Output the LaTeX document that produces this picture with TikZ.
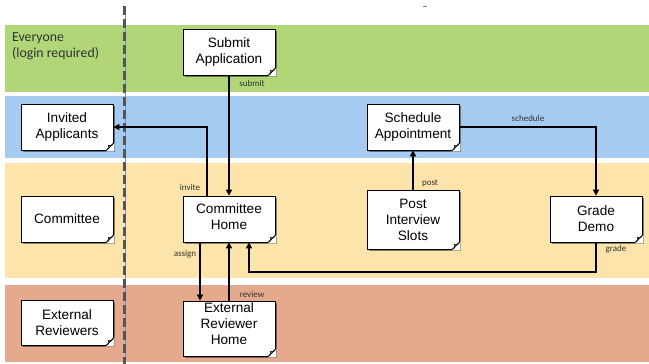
\documentclass[tikz,border=0pt]{standalone}
\usepackage{fontspec}
\setmainfont{Liberation Sans}
\newfontfamily\labelfont{Carlito}
\usetikzlibrary{arrows.meta,shadows}
\definecolor{laneeveryone}{RGB}{176,214,120}
\definecolor{laneinvited}{RGB}{166,203,240}
\definecolor{lanecommittee}{RGB}{252,228,170}
\definecolor{lanereviewer}{RGB}{229,169,142}
\definecolor{dividergray}{RGB}{85,85,85}
\definecolor{labelgray}{RGB}{50,50,50}
\tikzset{
  notebox/.style={draw, line width=.7pt, fill=white, align=center, inner sep=1pt,
    minimum width=92pt, minimum height=46pt,
    font=\fontsize{13.6}{16}\selectfont,
    drop shadow={shadow xshift=1.5pt, shadow yshift=-1.5pt, fill=black, opacity=.45}},
  flow/.style={line width=2pt, -{Triangle[length=6pt,width=6pt]}},
  flowlabel/.style={font=\labelfont\fontsize{9}{10}\selectfont, text=labelgray, inner sep=0pt},
  lanelabel/.style={font=\labelfont\fontsize{13.8}{16}\selectfont, text=labelgray, align=left, anchor=north west, inner sep=0pt}
}
\newcommand{\dogear}[1]{%
  \fill[white] ([xshift=-7.5pt,yshift=-1pt]#1.south east) -- ([xshift=1pt,yshift=-1pt]#1.south east)
    -- ([xshift=1pt,yshift=7.5pt]#1.south east) -- cycle;
  \filldraw[fill=black!8, line width=.5pt] ([xshift=-7pt]#1.south east)
    .. controls ([xshift=-4pt,yshift=2pt]#1.south east) .. ([xshift=-5pt,yshift=5pt]#1.south east)
    .. controls ([xshift=-2pt,yshift=4pt]#1.south east) .. ([yshift=7pt]#1.south east) -- cycle;
  \draw[line width=.7pt] ([xshift=-7pt]#1.south east) -- ([yshift=7pt]#1.south east);
}
\begin{document}
\begin{tikzpicture}[x=1pt,y=-1pt]
        \useasboundingbox (0,0) rectangle (649,364);
        \fill[laneeveryone] (5,25) rectangle (649,92);
        \fill[laneinvited] (5,96) rectangle (649,158);
        \fill[lanecommittee] (5,163) rectangle (649,278);
        \fill[lanereviewer] (5,285) rectangle (649,362);
        \node[lanelabel] (everyone) at (12,32) {Everyone\\(login required)};
        \draw[laneinvited!70!blue, line width=.6pt] (125,6) -- (125,364);
        \draw[dividergray, line width=3pt, dash pattern=on 9pt off 4pt] (124,6) -- (124,364);
        \draw[gray, line width=1pt] (423,6) -- (427,6);

        \node[notebox] (submit) at (229,52) {Submit\\Application};
        \node[notebox] (invited) at (67,127) {Invited\\Applicants};
        \node[notebox] (schedule) at (413,127) {Schedule\\Appointment};
        \node[notebox] (committee) at (67,219) {Committee};
        \node[notebox, text depth=5pt] (chome) at (229,219) {Committee\\Home};
        \node[notebox, minimum height=59pt] (post) at (413,219.5) {Post\\Interview\\Slots};
        \node[notebox] (grade) at (596,219) {Grade\\Demo};
        \node[notebox, minimum height=45pt] (extrev) at (67,322.5) {External\\Reviewers};
        \node[notebox, minimum height=55pt, text depth=9pt] (erhome) at (229,328.5) {External\\Reviewer\\Home};
        \foreach \n in {submit,invited,schedule,committee,chome,post,grade,extrev,erhome}
            {
                \dogear{\n}
            }

        \draw[flow] (submit.south) -- (chome.north);
        \draw[flow] ([xshift=-22pt]chome.north) |- (invited.east);
        \draw[flow] ([xshift=-29pt]chome.south) -- ([xshift=-29pt]erhome.north);
        \draw[flow] (erhome.north) -- (chome.south);
        \draw[flow] (post.north) -- (schedule.south);
        \draw[flow] (schedule.east) -| (grade.north);
        \draw[flow] (grade.south) -- ++(0,30) -| ([xshift=20pt]chome.south);

        \node[flowlabel] (submitlabel) at (252,83) {submit};
        \node[flowlabel] (invitelabel) at (190,187) {invite};
        \node[flowlabel] (assignlabel) at (185,254) {assign};
        \node[flowlabel] (reviewlabel) at (252,294) {review};
        \node[flowlabel] (postlabel) at (430,183) {post};
        \node[flowlabel] (schedulelabel) at (528,118) {schedule};
        \node[flowlabel] (gradelabel) at (616,249) {grade};
    \end{tikzpicture}
\end{document}
